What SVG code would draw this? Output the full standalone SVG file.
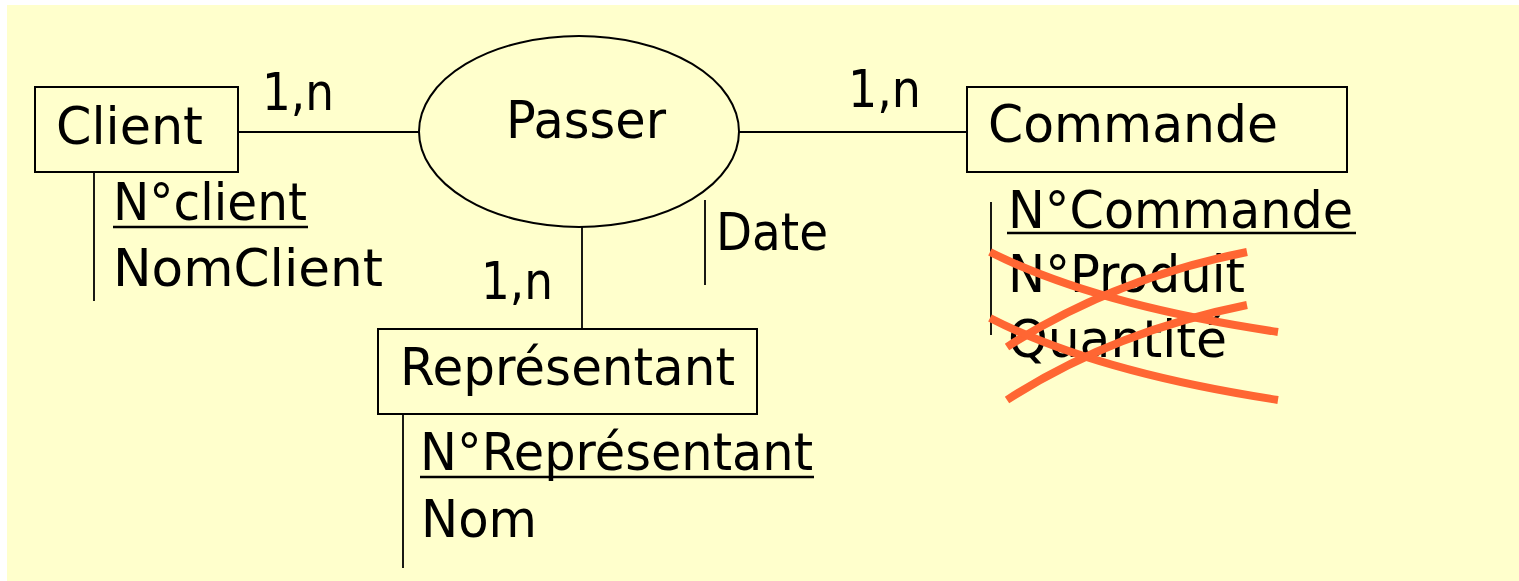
<svg xmlns="http://www.w3.org/2000/svg" width="1519" height="581" viewBox="0 0 1519 581">
  <style>
    .bg { fill: #ffffcc; }
    .box { fill: none; stroke: #000; stroke-width: 2; }
    .link { stroke: #000; stroke-width: 1.8; fill: none; }
    .lbl { font-family: "DejaVu Sans", "Noto Sans", sans-serif; font-size: 52px; fill: #000; }
    .ul { stroke: #000; stroke-width: 2.6; }
    .cross { fill: none; stroke: #ff6633; stroke-width: 8; stroke-linecap: butt; }
  </style>

  <rect x="0" y="0" width="1519" height="581" fill="#ffffff"/>
  <rect class="bg" x="7" y="5" width="1512" height="576"/>

  <!-- connectors between entities and the association -->
  <g id="connectors">
    <line class="link" x1="238" y1="132" x2="419" y2="132"/>
    <line class="link" x1="739" y1="132" x2="967" y2="132"/>
    <line class="link" x1="582" y1="227" x2="582" y2="329"/>
    <text class="lbl" x="262" y="110" textLength="72" lengthAdjust="spacingAndGlyphs">1,n</text>
    <text class="lbl" x="848" y="107" textLength="73" lengthAdjust="spacingAndGlyphs">1,n</text>
    <text class="lbl" x="481" y="299" textLength="72" lengthAdjust="spacingAndGlyphs">1,n</text>
  </g>

  <!-- entity Client -->
  <g id="client">
    <rect class="box" x="35" y="87" width="203" height="85"/>
    <text class="lbl" x="56" y="144" textLength="147" lengthAdjust="spacingAndGlyphs">Client</text>
    <line class="link" x1="94" y1="172" x2="94" y2="301"/>
    <text class="lbl" x="113" y="220" textLength="194" lengthAdjust="spacingAndGlyphs">N°client</text>
    <line class="ul" x1="113" y1="227" x2="308" y2="227"/>
    <text class="lbl" x="113" y="286" textLength="270" lengthAdjust="spacingAndGlyphs">NomClient</text>
  </g>

  <!-- association Passer -->
  <g id="passer">
    <ellipse class="box" cx="579" cy="131.5" rx="160" ry="95.5"/>
    <text class="lbl" x="506" y="138" textLength="160" lengthAdjust="spacingAndGlyphs">Passer</text>
    <line class="link" x1="705" y1="200" x2="705" y2="285"/>
    <text class="lbl" x="716" y="250" textLength="112" lengthAdjust="spacingAndGlyphs">Date</text>
  </g>

  <!-- entity Commande -->
  <g id="commande">
    <rect class="box" x="967" y="87" width="380" height="85"/>
    <text class="lbl" x="988" y="142" textLength="290" lengthAdjust="spacingAndGlyphs">Commande</text>
    <line class="link" x1="991" y1="202" x2="991" y2="335"/>
    <text class="lbl" x="1008" y="228" textLength="345" lengthAdjust="spacingAndGlyphs">N°Commande</text>
    <line class="ul" x1="1007" y1="233" x2="1356" y2="233"/>
    <text class="lbl" x="1008" y="292" textLength="237" lengthAdjust="spacingAndGlyphs">N°Produit</text>
    <text class="lbl" x="1008" y="357" textLength="219" lengthAdjust="spacingAndGlyphs">Quantité</text>
    <!-- strike-through marks over the removed attributes -->
    <path class="cross" d="M990,252 Q1095,305 1278,332"/>
    <path class="cross" d="M1007,347 Q1112,279 1247,252"/>
    <path class="cross" d="M990,318 Q1095,372 1278,400"/>
    <path class="cross" d="M1007,400 Q1112,332 1247,305"/>
  </g>

  <!-- entity Représentant -->
  <g id="representant">
    <rect class="box" x="378" y="329" width="379" height="85"/>
    <text class="lbl" x="400" y="385" textLength="335" lengthAdjust="spacingAndGlyphs">Représentant</text>
    <line class="link" x1="403" y1="414" x2="403" y2="568"/>
    <text class="lbl" x="420" y="470" textLength="393" lengthAdjust="spacingAndGlyphs">N°Représentant</text>
    <line class="ul" x1="420" y1="477" x2="814" y2="477"/>
    <text class="lbl" x="421" y="537" textLength="116" lengthAdjust="spacingAndGlyphs">Nom</text>
  </g>
</svg>
